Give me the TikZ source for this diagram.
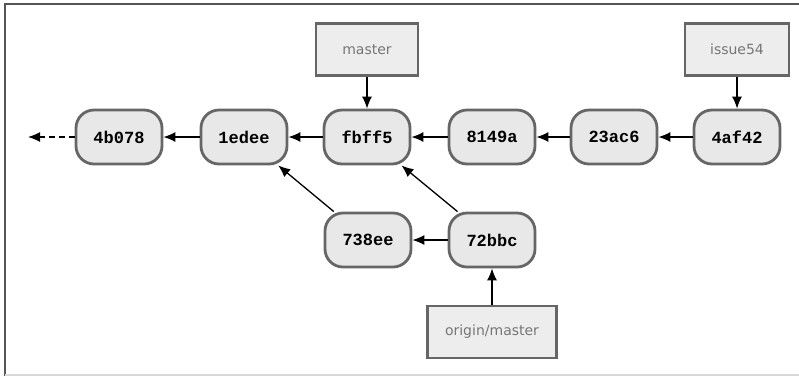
\documentclass[tikz,border=0pt]{standalone}
\usepackage{fontspec}
\setmainfont{DejaVu Sans}
\newfontfamily\hashfont{Liberation Mono}
\usetikzlibrary{arrows.meta}
\definecolor{nodefill}{HTML}{E8E8E8}
\definecolor{nodeedge}{HTML}{666666}
\definecolor{labfill}{HTML}{EDEDED}
\definecolor{labtext}{HTML}{767676}
\definecolor{frameline}{HTML}{555555}
\definecolor{framelight}{HTML}{D8D8D8}
\tikzset{
  commit/.style={draw=nodeedge, fill=nodefill, line width=2.8pt, rounded corners=18pt,
    minimum width=86pt, minimum height=54pt, inner sep=0pt,
    font=\hashfont\bfseries\fontsize{17}{17}\selectfont},
  reflabel/.style={draw=nodeedge, fill=labfill, line width=2.2pt, minimum height=52pt,
    inner sep=0pt, text=labtext, font=\fontsize{14}{14}\selectfont},
  link/.style={line width=1.3pt, -{Latex[length=12pt,width=10pt]}},
}
\begin{document}
\begin{tikzpicture}[x=1pt,y=-1pt]
\useasboundingbox (0,0) rectangle (799,376);
\draw[frameline, line width=2pt] (5,376) -- (5,4) -- (799,4);
\draw[framelight, line width=2pt] (5,375) -- (799,375);

\node[commit] (c4b078) at (119,137) {4b078};
\node[commit] (c1edee) at (244,137) {1edee};
\node[commit] (cfbff5) at (367,137) {fbff5};
\node[commit] (c8149a) at (492,137) {8149a};
\node[commit] (c23ac6) at (614,137) {23ac6};
\node[commit] (c4af42) at (737,137) {4af42};
\node[commit] (c738ee) at (368,240) {738ee};
\node[commit] (c72bbc) at (492,240) {72bbc};

\node[reflabel, minimum width=102pt] (master) at (367,49.5) {master};
\node[reflabel, minimum width=104pt] (issue) at (737,49.5) {issue54};
\node[reflabel, minimum width=129pt] (origin) at (492,332) {origin/master};

\coordinate (past) at (28,137);

\draw[link, dashed, dash pattern=on 6pt off 4pt] (c4b078) -- (past);
\draw[link] (c1edee) -- (c4b078);
\draw[link] (cfbff5) -- (c1edee);
\draw[link] (c8149a) -- (cfbff5);
\draw[link] (c23ac6) -- (c8149a);
\draw[link] (c4af42) -- (c23ac6);
\draw[link] (c72bbc) -- (c738ee);
\draw[link] (c738ee) -- (c1edee);
\draw[link] (c72bbc) -- (cfbff5);
\draw[link] (master) -- (cfbff5);
\draw[link] (issue) -- (c4af42);
\draw[link] (origin) -- (c72bbc);
\end{tikzpicture}
\end{document}
